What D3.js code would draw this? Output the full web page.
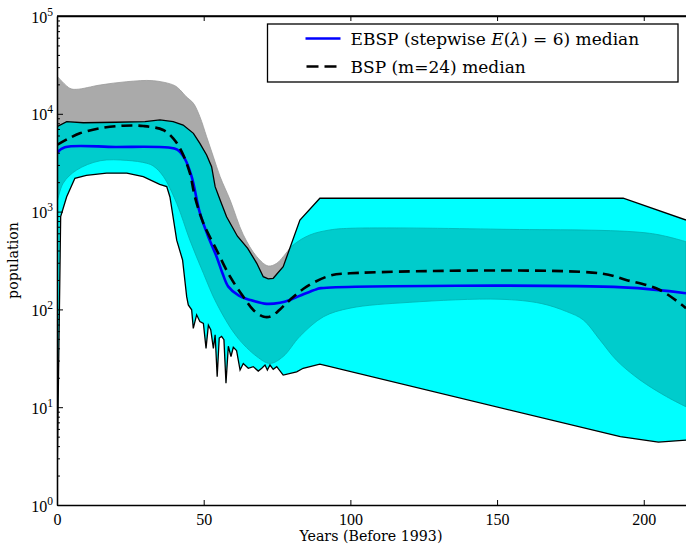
<!DOCTYPE html>
<html>
<head>
<meta charset="utf-8">
<script src="https://cdn.jsdelivr.net/npm/d3@7"></script>
<style>
  body { margin: 0; background: #fff; }
  svg text { fill: #000; }
</style>
</head>
<body>
<div id="chart"></div>
<script>
/***********************************************************************/
// data: [years before 1993, population]
const ebspMedian = [[0, 4000], [2.7, 4550], [20, 4580], [38, 4520], [41, 4300], [43.5, 3500],
  [45.9, 2275], [48.7, 968], [51.5, 560], [54.4, 346], [56.5, 230], [58.4, 171], [62, 138],
  [65.8, 125], [71.5, 114], [76, 117], [79.4, 125], [84, 143], [88.5, 161], [90, 165],
  [193, 168], [214.4, 146]];

const bspMedian = [[0, 4800], [4, 5600], [7.8, 6320], [14.7, 7110], [22.6, 7560], [29.4, 7500],
  [36.2, 6830], [39.6, 5620], [42.5, 4100], [45.3, 2470], [47, 1420], [49.9, 760], [54.4, 405],
  [59, 216], [63.5, 135], [67, 98], [70.5, 84], [73, 85], [76, 100], [79.4, 125], [85.1, 171],
  [93, 221], [99.9, 234], [185, 234], [194, 200], [205.5, 158], [214.4, 103]];

// EBSP 95% interval (cyan, black edges)
const ebspUpper = [[0, 7380], [3.3, 8300], [9, 8100], [20, 8200], [30, 8300], [35.1, 8650],
  [39.6, 8300], [43, 7680], [46.5, 6310], [48.7, 4990], [51, 3790], [52.7, 2880], [53.9, 1800],
  [55.6, 1315], [57.8, 887], [61.5, 560], [65, 420], [68.1, 296], [70.3, 216], [72, 205],
  [73.7, 208], [77.1, 273], [82.8, 820], [89.6, 1370], [193, 1370], [214.4, 820]];

const ebspLower = [[0, 1.5], [1.25, 890], [3.3, 1420], [6.1, 2190], [10, 2350], [16.9, 2470],
  [23.8, 2470], [29.4, 2275], [35, 1900], [37.4, 1800], [38.5, 1410], [40.8, 510], [42.8, 320],
  [44.2, 135], [44.75, 111], [45.9, 99], [46.45, 64], [47.6, 88], [48.7, 75], [49.9, 72],
  [50.8, 40], [51.6, 69], [52.4, 62], [53.3, 40], [53.9, 55], [54.6, 20.5], [55.3, 51],
  [56.1, 53], [56.9, 49], [57.6, 17.6], [58.4, 42], [59.3, 33], [60.1, 41], [61.2, 38],
  [62.4, 24], [63.5, 28], [65.2, 25], [66.9, 26], [68.6, 23.4], [69.8, 25], [70.9, 27],
  [71.7, 24], [72.6, 27], [73.7, 24.4], [74.9, 26], [77.1, 21.3], [81.7, 23], [83.9, 25],
  [89.6, 27.5], [192, 5], [205, 4.4], [214.4, 4.6]];

// BSP 95% interval (grey)
const bspUpper = [[0, 24400], [4.4, 18200], [6.7, 17800], [14.7, 19700], [23.8, 21300],
  [32.8, 21800], [40, 19500], [42, 17500], [44, 15000], [46.5, 12800], [48.7, 9340],
  [51, 5830], [53.3, 3640], [55.6, 2275], [59, 1315], [63.5, 580], [68.1, 346], [72, 278],
  [74.9, 296], [77.1, 346], [80.5, 455], [86.2, 577], [93, 649], [99.9, 675], [151, 660],
  [202, 600], [214.4, 492]];

const bspLower = [[0, 1215], [2.1, 1950], [6.7, 2660], [14.7, 3310], [23.8, 3340], [30.6, 3120],
  [33, 2900], [36.2, 2300], [40.8, 1215], [45.3, 510], [49.9, 234], [54.4, 115], [61.2, 53],
  [68.1, 33], [72.6, 28], [77.1, 33], [82.8, 53], [90.8, 84], [99.9, 103], [120, 118],
  [151, 127], [165, 115], [173.7, 95], [179.4, 78], [185, 49], [190.8, 30], [198.7, 19],
  [207.8, 12.8], [214.4, 10.1]];

const xTicks = [0, 50, 100, 150, 200];
const yDecades = [0, 1, 2, 3, 4, 5];
const legendLabels = ["EBSP (stepwise ", "BSP (m=24) median"];

/***********************************************************************/
// static svg/chart variables
var svgWidth = 686;
var svgHeight = 545;

var margin = { top: 16, right: 0, bottom: 40, left: 57 };
var chartWidth = svgWidth - margin.left - margin.right;
var chartHeight = svgHeight - margin.top - margin.bottom;

var tickFont = '"Liberation Serif", serif';
var textFont = '"DejaVu Serif", serif';

var svg = d3.select('#chart')
  .append('svg')
  .attr('width', svgWidth)
  .attr('height', svgHeight);

var chartGroup = svg.append('g')
  .attr('transform', `translate(${margin.left}, ${margin.top})`);

var xScale = d3.scaleLinear().domain([0, 214.4]).range([0, chartWidth]);
var yScale = d3.scaleLog().domain([1, 1e5]).range([chartHeight, 0]);

var defs = svg.append('defs');
defs.append('clipPath').attr('id', 'plotClip')
  .append('rect').attr('width', chartWidth).attr('height', chartHeight);

var smooth = d3.line().x(d => xScale(d[0])).y(d => yScale(d[1])).curve(d3.curveCatmullRom.alpha(0.5));
var straight = d3.line().x(d => xScale(d[0])).y(d => yScale(d[1]));

// closed band path: upper forwards, lower backwards
function bandPath(upper, lower, gen) {
  let back = gen(lower.slice().reverse());
  return gen(upper) + 'L' + back.slice(1) + 'Z';
}

var plot = chartGroup.append('g').attr('clip-path', 'url(#plotClip)');

var bspBand = bandPath(bspUpper, bspLower, smooth);
var ebspBand = bandPath(ebspUpper, ebspLower, straight);

defs.append('clipPath').attr('id', 'ebspClip')
  .append('path').attr('d', ebspBand).attr('transform', `translate(${margin.left}, ${margin.top})`);

// grey band
plot.append('path').attr('d', bspBand)
  .attr('fill', '#aaaaaa').attr('stroke', '#999999').attr('stroke-width', 0.8);

// cyan band
plot.append('path').attr('d', ebspBand).attr('fill', '#00ffff');

// overlap of both bands
plot.append('g').attr('clip-path', 'url(#ebspClip)')
  .attr('transform', `translate(${-margin.left}, ${-margin.top})`)
  .append('path').attr('d', bspBand)
  .attr('transform', `translate(${margin.left}, ${margin.top})`)
  .attr('fill', '#00cccc').attr('stroke', '#00b0b0').attr('stroke-width', 0.8);

// black edges of the cyan band
plot.append('path').attr('d', straight(ebspUpper))
  .attr('fill', 'none').attr('stroke', '#000').attr('stroke-width', 1.3);
plot.append('path').attr('d', straight(ebspLower))
  .attr('fill', 'none').attr('stroke', '#000').attr('stroke-width', 1.3);

// medians
plot.append('path').attr('d', smooth(ebspMedian))
  .attr('fill', 'none').attr('stroke', '#0000ff').attr('stroke-width', 2.6);
plot.append('path').attr('d', smooth(bspMedian))
  .attr('fill', 'none').attr('stroke', '#000').attr('stroke-width', 2.6)
  .attr('stroke-dasharray', '11,6');

/***********************************************************************/
// axes
var xAxis = d3.axisBottom(xScale).tickValues(xTicks).tickSizeInner(-5).tickSizeOuter(0).tickPadding(7);
var xg = chartGroup.append('g').attr('transform', `translate(0, ${chartHeight})`).call(xAxis);
xg.selectAll('text').attr('font-size', 16).attr('font-family', tickFont).attr('dy', '0.8em');

var xTop = d3.axisTop(xScale).tickValues(xTicks).tickSizeInner(-5).tickSizeOuter(0).tickFormat('');
chartGroup.append('g').call(xTop);

var majors = yDecades.map(k => Math.pow(10, k));
var minors = [];
yDecades.slice(0, -1).forEach(k => {
  for (let m = 2; m < 10; m++) minors.push(m * Math.pow(10, k));
});

var yMinor = d3.axisLeft(yScale).tickValues(minors).tickSizeInner(-3).tickSizeOuter(0).tickFormat('');
chartGroup.append('g').call(yMinor);

var yAxis = d3.axisLeft(yScale).tickValues(majors).tickSizeInner(-6).tickSizeOuter(0).tickFormat('');
var yg = chartGroup.append('g').call(yAxis);
yg.selectAll('.tick').each(function (d, i) {
  let t = d3.select(this).append('text')
    .attr('x', -4).attr('y', 6).attr('text-anchor', 'end')
    .attr('font-size', 16).attr('font-family', tickFont);
  t.append('tspan').text('10');
  t.append('tspan').attr('dy', -7).attr('font-size', 11.5).text(yDecades[i]);
});

chartGroup.selectAll('.domain').attr('stroke', '#000').attr('stroke-width', 1.3);
chartGroup.selectAll('.tick line').attr('stroke', '#000').attr('stroke-width', 1);

// top spine
chartGroup.append('line').attr('x1', 0).attr('x2', chartWidth).attr('y1', 0).attr('y2', 0)
  .attr('stroke', '#000').attr('stroke-width', 1.3);

// axis titles
chartGroup.append('text')
  .attr('x', xScale(107)).attr('y', chartHeight + 36)
  .attr('text-anchor', 'middle').attr('font-size', 14.2).attr('font-family', textFont)
  .text('Years (Before 1993)');

chartGroup.append('text')
  .attr('transform', `translate(-39, ${chartHeight / 2}) rotate(-90)`)
  .attr('text-anchor', 'middle').attr('font-size', 14.2).attr('font-family', textFont)
  .text('population');

/***********************************************************************/
// legend
var legend = svg.append('g').attr('transform', 'translate(267.5, 24)');
legend.append('rect').attr('width', 410.5).attr('height', 58)
  .attr('fill', '#fff').attr('stroke', '#000').attr('stroke-width', 1.3);

legend.append('line').attr('x1', 38).attr('x2', 73).attr('y1', 14.5).attr('y2', 14.5)
  .attr('stroke', '#0000ff').attr('stroke-width', 2.6);
legend.append('line').attr('x1', 39).attr('x2', 73).attr('y1', 42.5).attr('y2', 42.5)
  .attr('stroke', '#000').attr('stroke-width', 2.6).attr('stroke-dasharray', '12,6');

var l1 = legend.append('text').attr('x', 83).attr('y', 20.5)
  .attr('font-size', 17).attr('font-family', textFont);
l1.append('tspan').text(legendLabels[0]);
l1.append('tspan').attr('font-style', 'italic').text('E');
l1.append('tspan').text('(');
l1.append('tspan').attr('font-style', 'italic').text('λ');
l1.append('tspan').text(') = 6) median');

legend.append('text').attr('x', 83).attr('y', 48.5)
  .attr('font-size', 17).attr('font-family', textFont)
  .text(legendLabels[1]);
</script>
</body>
</html>
